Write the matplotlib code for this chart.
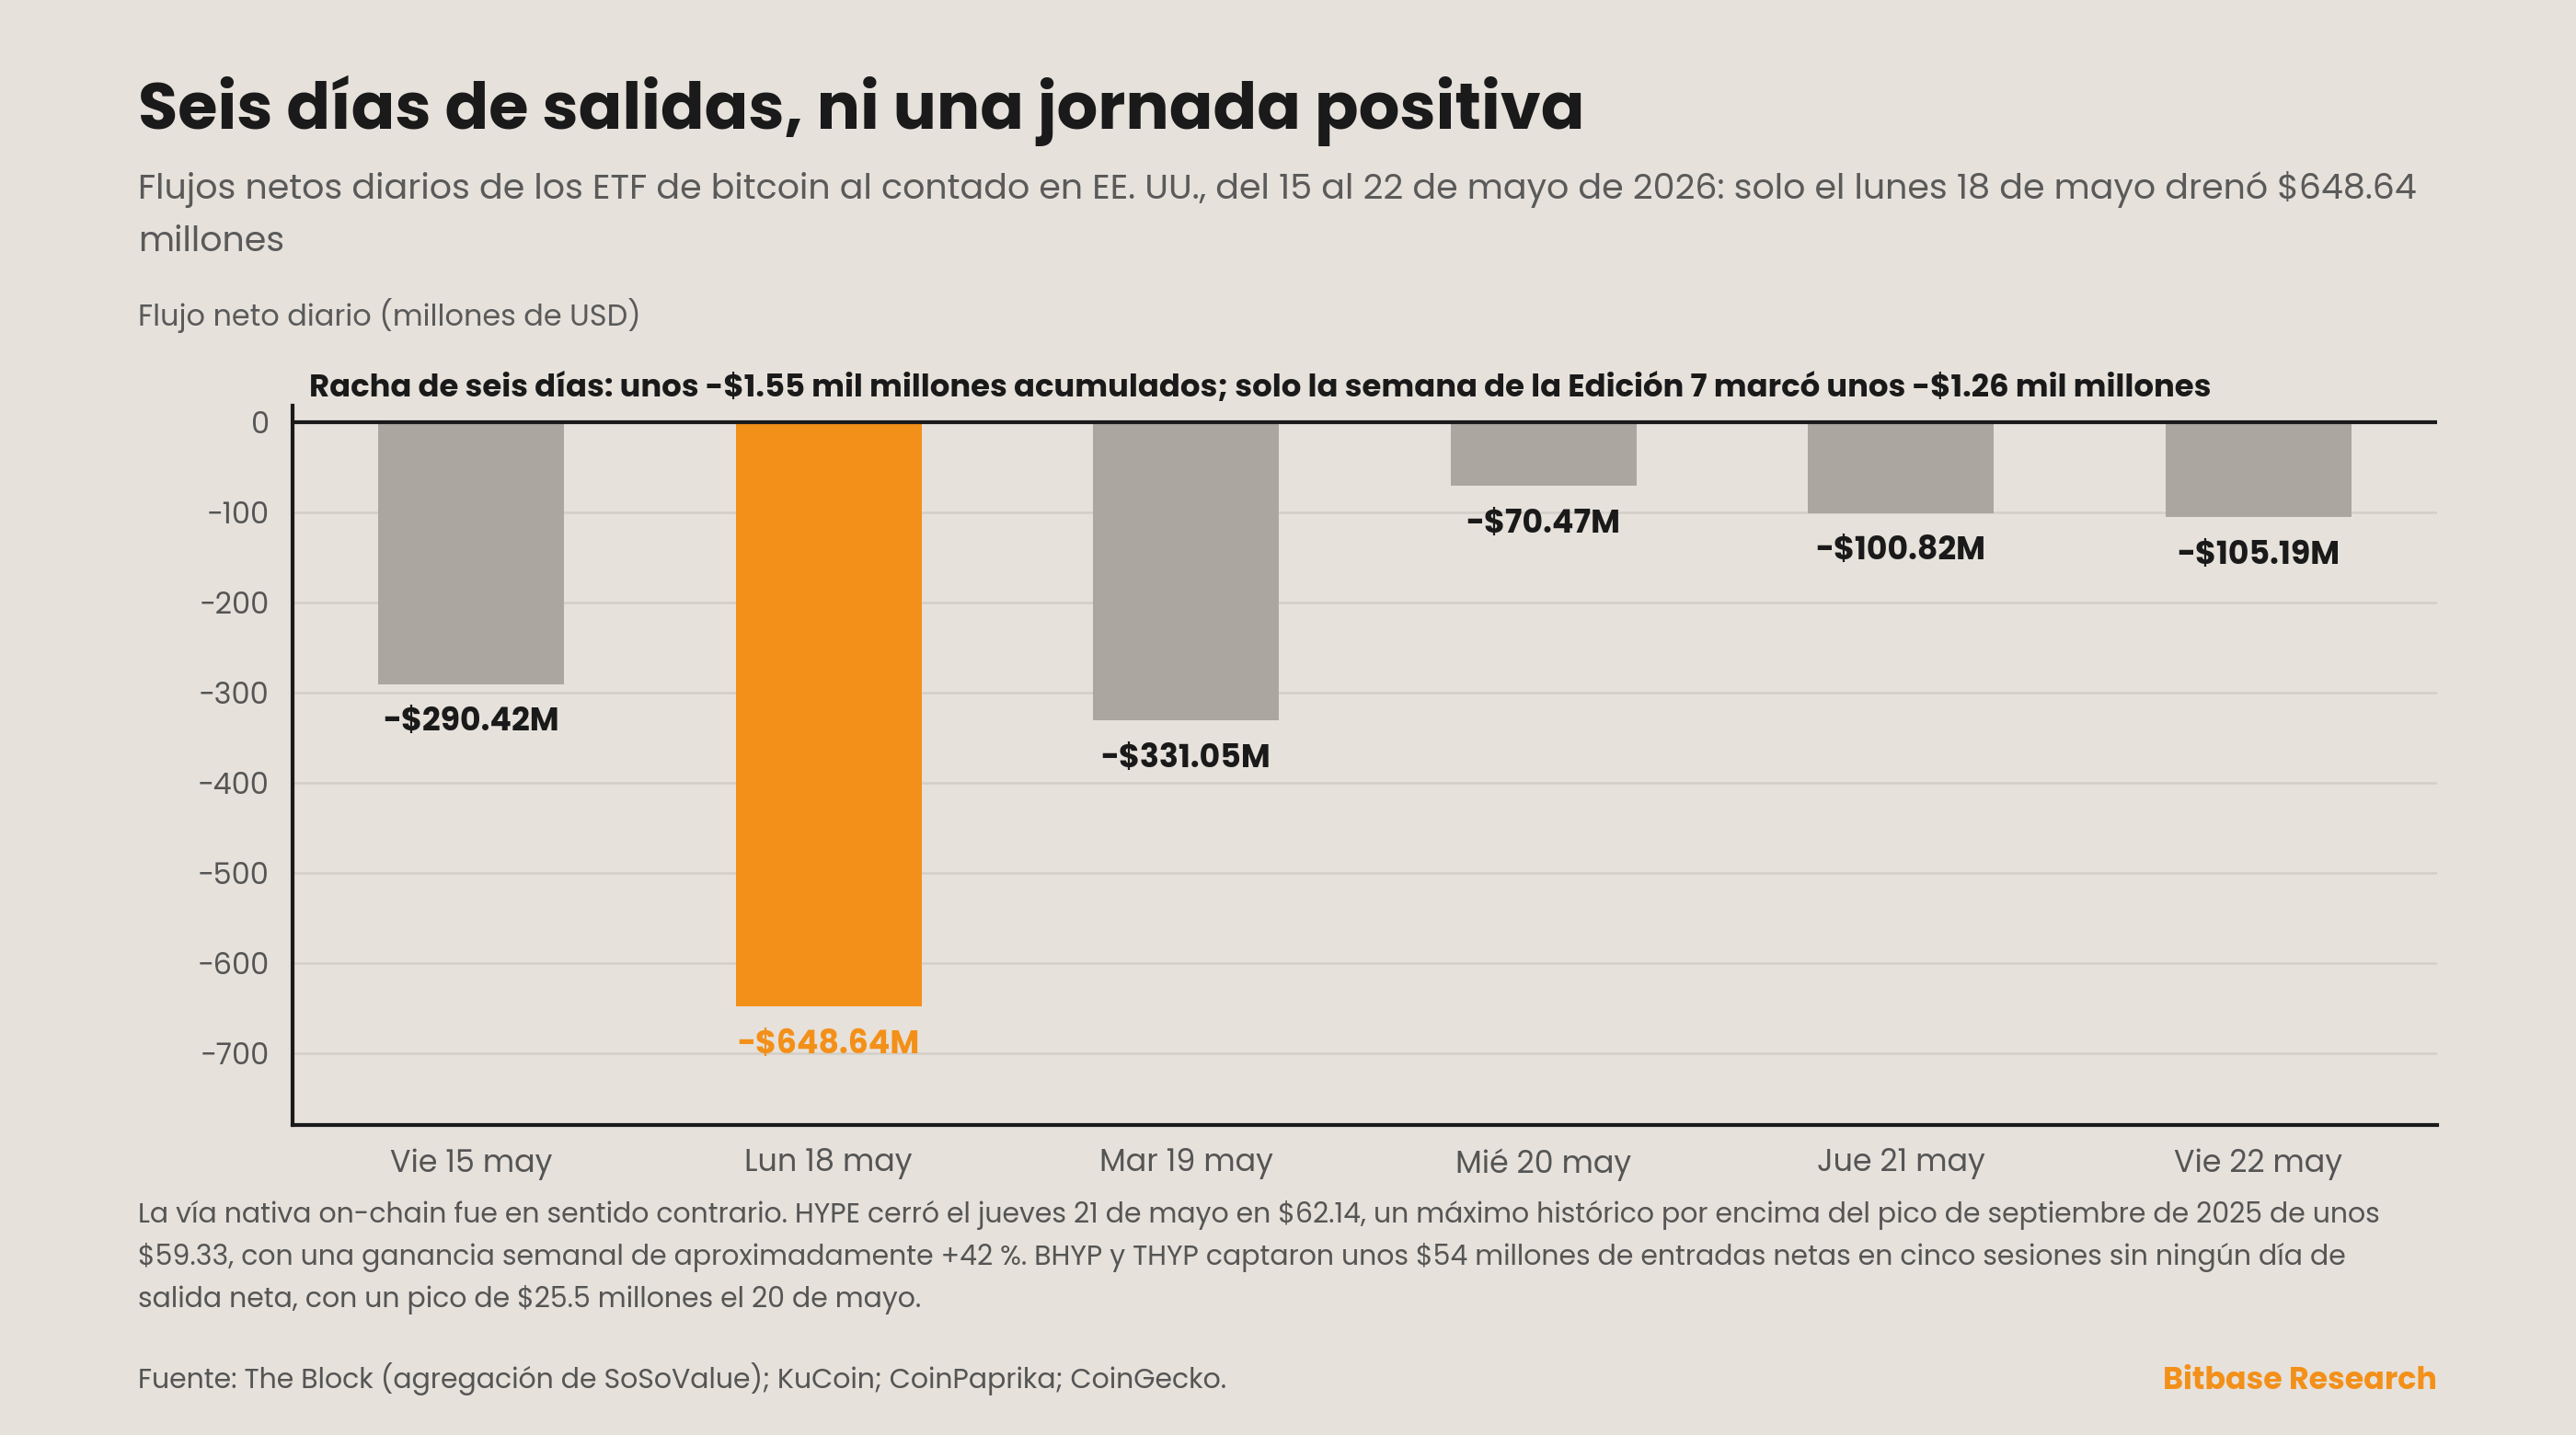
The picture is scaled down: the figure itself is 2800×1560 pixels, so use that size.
import matplotlib
matplotlib.use("Agg")
import matplotlib.pyplot as plt

days = ["Vie 15 may", "Lun 18 may", "Mar 19 may", "Mié 20 may", "Jue 21 may", "Vie 22 may"]
flows = [-290.42, -648.64, -331.05, -70.47, -100.82, -105.19]
labels = ["-$290.42M", "-$648.64M", "-$331.05M", "-$70.47M", "-$100.82M", "-$105.19M"]
highlight = 1
yticks = [0, -100, -200, -300, -400, -500, -600, -700]

BG = "#E6E1DB"
GREY = "#ABA69F"
ORANGE = "#F39019"
plt.rcParams['font.family'] = ['Poppins', 'Lato', 'DejaVu Sans']
plt.rcParams['text.parse_math'] = False

fig = plt.figure(figsize=(14, 7.8), dpi=200, facecolor=BG)
ax = fig.add_axes([0.1135, 0.216, 0.8325, 0.501], facecolor=BG)
x = list(range(len(days)))
colors = [ORANGE if i == highlight else GREY for i in x]
ax.bar(x, flows, width=0.52, color=colors, zorder=2)
for i, (v, l) in enumerate(zip(flows, labels)):
    ax.text(i, v - 25, l, ha="center", va="top", fontsize=12.5, fontweight="bold",
            color=ORANGE if i == highlight else "#1a1a1a")
ax.set_xlim(-0.5, 5.5)
ax.set_ylim(-780, 18)
ax.set_yticks(yticks)
ax.set_yticklabels([str(t).replace("-", "−") for t in yticks], fontsize=11.5, color="#555")
ax.set_xticks(x)
ax.set_xticklabels(days, fontsize=12, color="#555")
ax.tick_params(length=0, pad=9)
ax.grid(axis="y", color="#D3CEC7", lw=0.9, zorder=0)
ax.axhline(0, color="#1a1a1a", lw=1.5, zorder=3)
for s in ["top", "right"]:
    ax.spines[s].set_visible(False)
for s in ["left", "bottom"]:
    ax.spines[s].set_color("#1a1a1a"); ax.spines[s].set_linewidth(1.5)

fig.text(0.0535, 0.923, "Seis días de salidas, ni una jornada positiva", fontsize=25.3,
         fontweight="bold", color="#1a1a1a", va="center")
fig.text(0.0535, 0.868, "Flujos netos diarios de los ETF de bitcoin al contado en EE. UU., del 15 al 22 de mayo de 2026: solo el lunes 18 de mayo drenó $648.64", fontsize=13.7, color="#5a5a5a", va="center")
fig.text(0.0535, 0.831, "millones", fontsize=13.7, color="#5a5a5a", va="center")
fig.text(0.0535, 0.780, "Flujo neto diario (millones de USD)", fontsize=11.5, color="#5a5a5a", va="center")
fig.text(0.12, 0.729, "Racha de seis días: unos -$1.55 mil millones acumulados; solo la semana de la Edición 7 marcó unos -$1.26 mil millones",
         fontsize=12.2, fontweight="bold", color="#1a1a1a", va="center")
notes = ["La vía nativa on-chain fue en sentido contrario. HYPE cerró el jueves 21 de mayo en $62.14, un máximo histórico por encima del pico de septiembre de 2025 de unos",
         "$59.33, con una ganancia semanal de aproximadamente +42 %. BHYP y THYP captaron unos $54 millones de entradas netas en cinco sesiones sin ningún día de",
         "salida neta, con un pico de $25.5 millones el 20 de mayo."]
for k, n in enumerate(notes):
    fig.text(0.0535, 0.153 - k * 0.0295, n, fontsize=10.8, color="#555", va="center")
fig.text(0.0535, 0.039, "Fuente: The Block (agregación de SoSoValue); KuCoin; CoinPaprika; CoinGecko.",
         fontsize=10.8, color="#555", va="center")
fig.text(0.946, 0.037, "Bitbase Research", fontsize=12, fontweight="bold", color=ORANGE,
         ha="right", va="center")
fig.savefig("out.png", dpi=200, facecolor=BG)
